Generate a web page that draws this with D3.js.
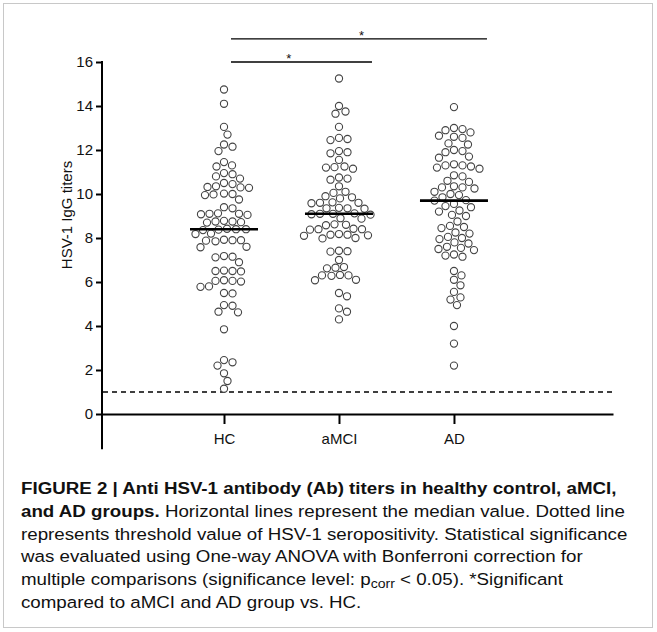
<!DOCTYPE html>
<html>
<head>
<meta charset="utf-8">
<script src="https://cdn.jsdelivr.net/npm/d3@7"></script>
<style>
  html, body { margin: 0; padding: 0; background: #fff; }
  svg { display: block; }
  text { font-family: "Liberation Sans", Arial, sans-serif; }
  .cap { fill: #111; }
</style>
</head>
<body>
<svg id="chart" width="657" height="632"></svg>
<script>
var categories = ['HC', 'aMCI', 'AD'];
var yTicks = [0, 2, 4, 6, 8, 10, 12, 14, 16];
var threshold = 1;
var medians = [8.4, 9.1, 9.7];

var hcValues = [14.75, 14.1, 13.05, 12.7, 12.25, 12.15, 11.95, 11.45, 11.3, 11.25, 10.95, 10.9, 10.8, 10.7,
  10.5, 10.45, 10.3, 10.28, 10.32, 10.35, 10.0, 9.98, 10.02, 9.95, 9.75, 9.4, 9.35, 9.1, 9.08, 9.12, 9.1, 9.05,
  8.75, 8.72, 8.78, 8.7, 8.75, 8.4, 8.38, 8.42, 8.4, 8.36, 8.2, 8.18, 7.9, 7.88, 7.92, 7.85, 7.9, 7.6, 7.58,
  7.15, 7.12, 7.18, 6.9, 6.5, 6.48, 6.52, 6.5, 6.05, 6.02, 6.08, 6.05, 5.8, 5.78, 5.5, 5.48,
  4.95, 4.92, 4.65, 4.62, 3.85, 2.45, 2.35, 2.2, 1.85, 1.5, 1.15];

var amciValues = [15.25, 14.0, 13.75, 13.65, 13.05, 12.55, 12.5, 12.45, 11.95, 11.9, 11.85, 11.55, 11.25, 11.2,
  11.15, 11.22, 10.75, 10.7, 10.65, 10.35, 10.1, 10.05, 9.85, 9.8, 9.9, 9.6, 9.62, 9.58, 9.6, 9.35, 9.33, 9.37,
  9.35, 9.1, 9.08, 9.12, 9.1, 9.06, 8.9, 8.88, 8.6, 8.58, 8.62, 8.4, 8.38, 8.42, 8.4, 8.15, 8.12, 8.18, 8.15,
  8.1, 8.0, 7.98, 7.4, 7.38, 7.42, 7.0, 6.65, 6.62, 6.68, 6.3, 6.28, 6.32, 6.3, 6.1, 6.08, 5.5, 5.35, 4.8,
  4.65, 4.3];

var adValues = [13.95, 13.0, 12.95, 12.9, 12.8, 12.65, 12.6, 12.55, 12.3, 12.25, 12.0, 11.95, 11.9, 11.7, 11.65,
  11.35, 11.3, 11.25, 11.2, 11.15, 11.3, 10.85, 10.8, 10.6, 10.55, 10.35, 10.3, 10.25, 10.3, 10.1, 10.0, 9.95,
  9.85, 9.7, 9.72, 9.55, 9.45, 9.4, 9.25, 9.2, 9.05, 9.0, 8.75, 8.55, 8.5, 8.45, 8.25, 8.2, 8.05, 8.0, 7.95,
  7.8, 7.75, 7.6, 7.55, 7.5, 7.45, 7.25, 7.2, 7.15, 6.5, 6.3, 6.1, 5.85, 5.55, 5.3, 5.2, 4.95, 4.0, 3.2, 2.2];

var groups = [hcValues, amciValues, adValues];
// significance bars: [from group, to group, y value, star position (fraction along bar)]
var sigBars = [[0, 2, 17.05, 0.51], [0, 1, 16.0, 0.41]];
var captionLines = [
  [{ t: 'FIGURE 2 | Anti HSV-1 antibody (Ab) titers in healthy control, aMCI,', b: true }],
  [{ t: 'and AD groups.', b: true }, { t: ' Horizontal lines represent the median value. Dotted line' }],
  [{ t: 'represents threshold value of HSV-1 seropositivity. Statistical significance' }],
  [{ t: 'was evaluated using One-way ANOVA with Bonferroni correction for' }],
  [{ t: 'multiple comparisons (significance level: p' }, { t: 'corr', sub: true }, { t: ' < 0.05). *Significant' }],
  [{ t: 'compared to aMCI and AD group vs. HC.' }]
];

var svg = d3.select('#chart');

svg.append('rect').attr('x', 3.5).attr('y', 3.5).attr('width', 649).attr('height', 624)
  .attr('fill', 'none').attr('stroke', '#c8c8c8').attr('stroke-width', 1);

var x = d3.scaleLinear().domain([-1.061, 3.383]).range([102, 613]);
var y = d3.scaleLinear().domain([0, 16]).range([414, 62]);

// y axis
var yAx = svg.append('g').attr('transform', 'translate(102,0)')
  .call(d3.axisLeft(y).tickValues(yTicks).tickSize(6).tickSizeOuter(0).tickPadding(3));
yAx.attr('font-size', 15).attr('font-family', '"Liberation Sans", Arial, sans-serif');
yAx.select('.domain').remove();
yAx.selectAll('.tick line').attr('stroke', '#000').attr('stroke-width', 2);
yAx.selectAll('.tick text').style('font-size', '15px').attr('fill', '#111');
svg.append('line').attr('x1', 102).attr('x2', 102).attr('y1', y(16) - 1).attr('y2', y(-1.6))
  .attr('stroke', '#000').attr('stroke-width', 2);

// x axis
var xAx = svg.append('g').attr('transform', 'translate(0,' + y(0) + ')')
  .call(d3.axisBottom(x).tickValues([0, 1, 2]).tickFormat(function(d) { return categories[d]; })
    .tickSize(10).tickSizeOuter(0).tickPadding(9));
xAx.attr('font-size', 15);
xAx.select('.domain').attr('stroke', '#000').attr('stroke-width', 2);
xAx.selectAll('.tick line').attr('stroke', '#000').attr('stroke-width', 2);
xAx.selectAll('.tick text').style('font-size', '15px').attr('fill', '#111');

// y label
svg.append('text').attr('transform', 'translate(72,215) rotate(-90)').attr('text-anchor', 'middle')
  .style('font-size', '15px').attr('fill', '#111').text('HSV-1 IgG titers');

// threshold line
svg.append('line').attr('x1', 103).attr('x2', 613).attr('y1', y(threshold)).attr('y2', y(threshold))
  .attr('stroke', '#000').attr('stroke-width', 1.3).attr('stroke-dasharray', '5,4');

// beeswarm placement
var step = 8.4;
function swarm(vals) {
  var placed = [];
  var sorted = vals.slice().sort(function(a, b) { return b - a; });
  sorted.forEach(function(v) {
    var py = y(v), best = 0;
    for (var k = 0; k < 400; k++) {
      var off = (k % 2 ? 1 : -1) * Math.ceil(k / 2) * 0.5;
      var ok = true;
      for (var i = 0; i < placed.length; i++) {
        var dx = placed[i].dx - off, dy = placed[i].py - py;
        if (dx * dx + dy * dy < step * step) { ok = false; break; }
      }
      if (ok) { best = off; break; }
    }
    placed.push({ v: v, py: py, dx: best });
  });
  return placed;
}

groups.forEach(function(vals, gi) {
  var pts = swarm(vals);
  svg.append('g').selectAll('circle').data(pts).enter().append('circle')
    .attr('cx', function(d) { return x(gi) + d.dx; })
    .attr('cy', function(d) { return d.py; })
    .attr('r', 3.6)
    .attr('fill', '#fff').attr('stroke', '#444').attr('stroke-width', 1.1);
  svg.append('line').attr('x1', x(gi) - 34).attr('x2', x(gi) + 34)
    .attr('y1', y(medians[gi])).attr('y2', y(medians[gi]))
    .attr('stroke', '#000').attr('stroke-width', 2.6);
});

// significance bars
sigBars.forEach(function(s) {
  var x1 = x(s[0]) + 7, x2 = x(s[1]) + 33;
  svg.append('line').attr('x1', x1).attr('x2', x2).attr('y1', y(s[2])).attr('y2', y(s[2]))
    .attr('stroke', '#000').attr('stroke-width', 1.4);
  svg.append('text').attr('x', x1 + (x2 - x1) * s[3]).attr('y', y(s[2]) + 1)
    .attr('text-anchor', 'middle').style('font-size', '13px').attr('fill', '#111').text('*');
});

// caption: larger font squeezed horizontally to look condensed
var cap = svg.append('g');
var capFs = 17;
var lineNodes = [];
captionLines.forEach(function(parts, li) {
  var t = cap.append('text').attr('class', 'cap').attr('x', 0).attr('y', 494 + li * 22.8)
    .style('font-size', capFs + 'px');
  parts.forEach(function(p) {
    var ts = t.append('tspan').text(p.t);
    if (p.b) ts.attr('font-weight', 'bold');
    if (p.sub) ts.attr('baseline-shift', '-25%').style('font-size', (capFs * 0.75) + 'px');
  });
  lineNodes.push(t);
});
var w = lineNodes[2].node().getComputedTextLength();
cap.attr('transform', 'translate(21,0) scale(' + (607 / w) + ',1)');
</script>
</body>
</html>
